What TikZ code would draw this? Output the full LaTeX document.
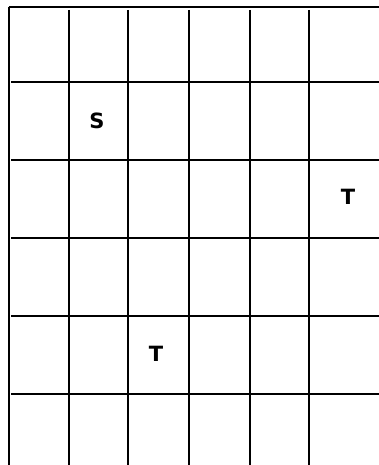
\documentclass[tikz,border=0pt]{standalone}
\usepackage{fontspec}
\setmainfont{DejaVu Sans}
\begin{document}
\begin{tikzpicture}[x=1pt,y=-1pt,
  gridline/.style={line width=2pt,black},
  lbl/.style={font=\bfseries\fontsize{21}{24}\selectfont,inner sep=0pt}]
\useasboundingbox (0,0) rectangle (379,465);
% outer top and left
\draw[gridline] (8.5,7) -- (379,7);
\draw[gridline] (8.5,7) -- (8.5,465);
% interior verticals
\foreach \x in {69,128,189,250,309}
  \draw[gridline] (\x,10) -- (\x,465);
% interior horizontals
\foreach \y in {82,160,238,316,394}
  \draw[gridline] (11,\y) -- (379,\y);
\node[lbl] (s) at (97,121) {S};
\node[lbl] (t1) at (348,197) {T};
\node[lbl] (t2) at (156,354) {T};
\end{tikzpicture}
\end{document}
